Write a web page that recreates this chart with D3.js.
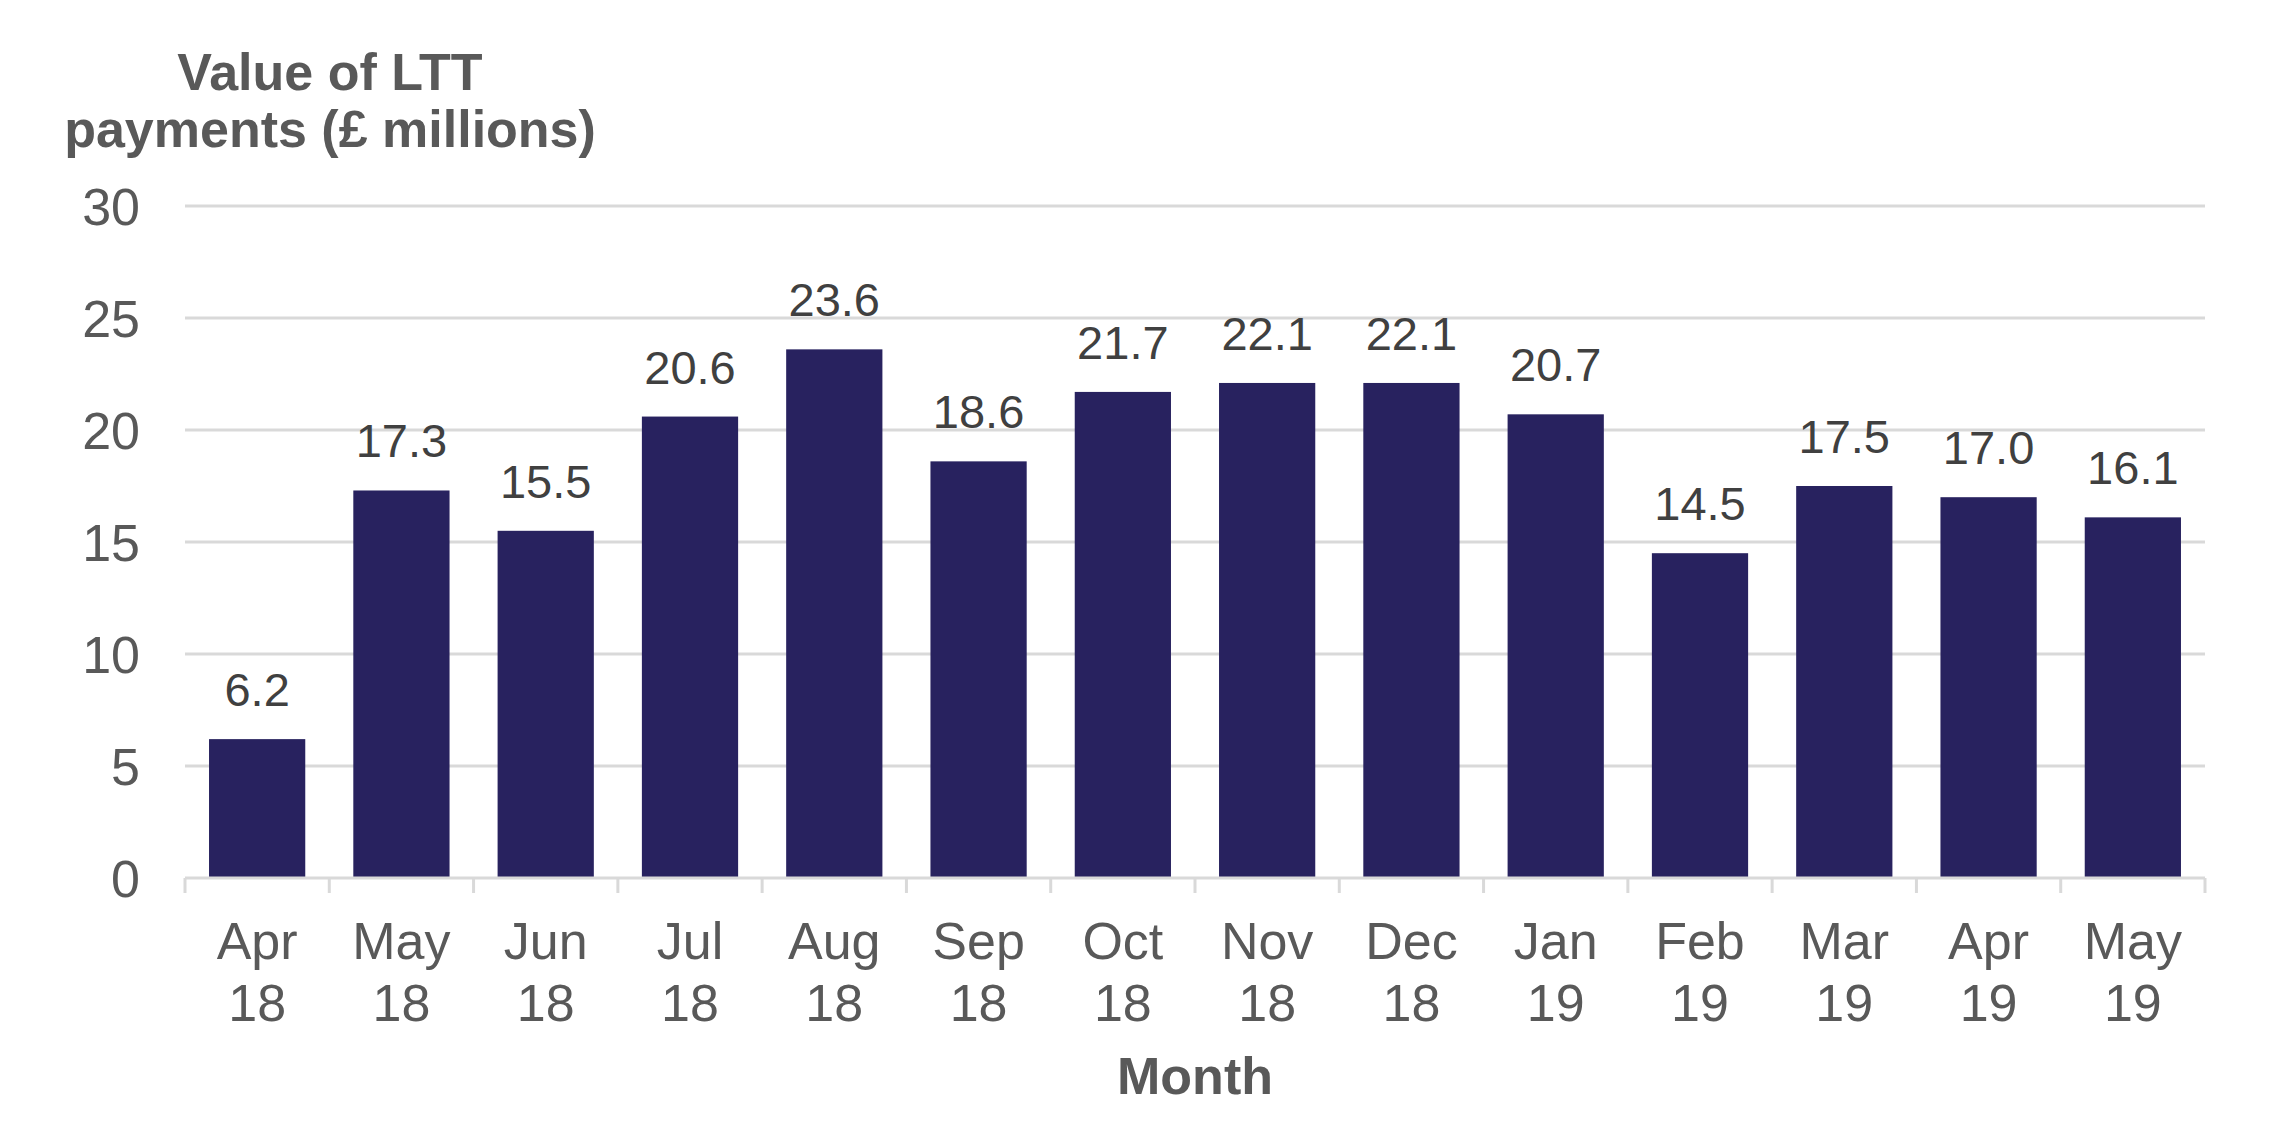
<!DOCTYPE html>
<html>
<head>
<meta charset="utf-8">
<script src="https://cdn.jsdelivr.net/npm/d3@7"></script>
<style>
  body { margin: 0; background: #ffffff; }
  svg text { font-family: "Liberation Sans", Arial, sans-serif; }
</style>
</head>
<body>
<div id="chart"></div>
<script>
// months shown on the x axis, two lines each
var months = ["Apr", "May", "Jun", "Jul", "Aug", "Sep", "Oct", "Nov", "Dec", "Jan", "Feb", "Mar", "Apr", "May"];
var years = ["18", "18", "18", "18", "18", "18", "18", "18", "18", "19", "19", "19", "19", "19"];
// value of LTT payments, £ millions
var payments = [6.2, 17.3, 15.5, 20.6, 23.6, 18.6, 21.7, 22.1, 22.1, 20.7, 14.5, 17.5, 17.0, 16.1];
var yTicks = [0, 5, 10, 15, 20, 25, 30];

var width = 2292, height = 1146;
var left = 185, right = 2205;

var svg = d3.select("#chart").append("svg")
    .attr("width", width)
    .attr("height", height);

var keys = d3.range(months.length);

var x = d3.scaleBand()
    .domain(keys)
    .range([left, right])
    .paddingInner(0.333)
    .paddingOuter(0.1665);

var y = d3.scaleLinear()
    .domain([0, 30])
    .range([878, 206]);

// gridlines
svg.append("g")
    .selectAll("line")
    .data(yTicks.filter(function (d) { return d > 0; }))
    .enter()
    .append("line")
    .attr("x1", left)
    .attr("x2", right)
    .attr("y1", function (d) { return y(d); })
    .attr("y2", function (d) { return y(d); })
    .style("stroke", "#d9d9d9")
    .style("stroke-width", 3);

// y axis labels
var yAxis = d3.axisLeft(y).tickValues(yTicks).tickSize(0).tickPadding(0);
var yG = svg.append("g")
    .attr("transform", "translate(140,0)")
    .call(yAxis);
yG.select(".domain").remove();
yG.selectAll("text")
    .style("font-size", "52px")
    .style("fill", "#595959")
    .attr("dy", "0.35em");

// bars
svg.append("g")
    .selectAll("rect")
    .data(payments)
    .enter()
    .append("rect")
    .attr("x", function (d, i) { return x(i); })
    .attr("y", function (d) { return y(d); })
    .attr("width", x.bandwidth())
    .attr("height", function (d) { return y(0) - y(d); })
    .style("fill", "#28225f");

// x axis line and ticks between categories
var step = x.step();
svg.append("line")
    .attr("x1", left)
    .attr("x2", right)
    .attr("y1", y(0))
    .attr("y2", y(0))
    .style("stroke", "#d9d9d9")
    .style("stroke-width", 3);

svg.append("g")
    .selectAll("line")
    .data(d3.range(months.length + 1))
    .enter()
    .append("line")
    .attr("x1", function (d) { return left + d * step; })
    .attr("x2", function (d) { return left + d * step; })
    .attr("y1", y(0))
    .attr("y2", y(0) + 15)
    .style("stroke", "#d9d9d9")
    .style("stroke-width", 3);

// x labels
var xl = svg.append("g")
    .selectAll("text")
    .data(keys)
    .enter()
    .append("text")
    .attr("text-anchor", "middle")
    .style("font-size", "52px")
    .style("fill", "#595959");

xl.append("tspan")
    .attr("x", function (d) { return x(d) + x.bandwidth() / 2; })
    .attr("y", 959)
    .text(function (d) { return months[d]; });

xl.append("tspan")
    .attr("x", function (d) { return x(d) + x.bandwidth() / 2; })
    .attr("y", 1021)
    .text(function (d) { return years[d]; });

// data labels
svg.append("g")
    .selectAll("text")
    .data(payments)
    .enter()
    .append("text")
    .attr("x", function (d, i) { return x(i) + x.bandwidth() / 2; })
    .attr("y", function (d) { return y(d) - 33; })
    .attr("text-anchor", "middle")
    .style("font-size", "47px")
    .style("fill", "#404040")
    .text(function (d) { return d.toFixed(1); });

// axis titles
var yTitle = svg.append("text")
    .attr("text-anchor", "middle")
    .style("font-size", "52px")
    .style("font-weight", "bold")
    .style("fill", "#595959");
yTitle.append("tspan").attr("x", 330).attr("y", 90).text("Value of LTT");
yTitle.append("tspan").attr("x", 330).attr("y", 147).text("payments (£ millions)");

svg.append("text")
    .attr("x", (left + right) / 2)
    .attr("y", 1094)
    .attr("text-anchor", "middle")
    .style("font-size", "52px")
    .style("font-weight", "bold")
    .style("fill", "#595959")
    .text("Month");
</script>
</body>
</html>
